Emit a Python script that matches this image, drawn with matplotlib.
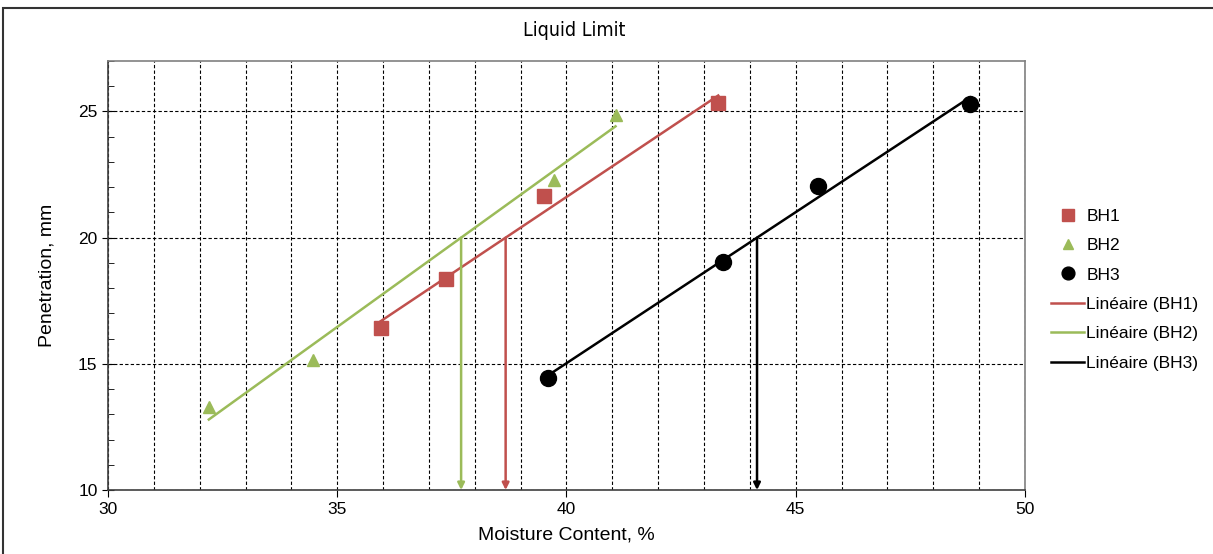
import numpy as np
import matplotlib
matplotlib.use("Agg")
import matplotlib.pyplot as plt
from matplotlib.ticker import MultipleLocator
from matplotlib.patches import Rectangle

plt.rcParams['font.family'] = ['Liberation Sans', 'DejaVu Sans']

# Moisture content (%) and cone penetration (mm) per borehole
bh1_w = [35.95, 37.38, 39.51, 43.31]
bh1_p = [16.41, 18.38, 21.64, 25.34]
bh2_w = [32.20, 34.48, 39.73, 41.07]
bh2_p = [13.30, 15.17, 22.30, 24.87]
bh3_w = [39.60, 43.41, 45.49, 48.80]
bh3_p = [14.43, 19.02, 22.06, 25.30]

names = ["BH1", "BH2", "BH3"]
colors = ["#C0504D", "#9BBB59", "#000000"]
markers = ["s", "^", "o"]
sizes = [10, 9, 11.5]
target_pen = 20

fig = plt.figure(figsize=(12.13, 5.54), dpi=100)
ax = fig.add_axes([0.089, 0.1155, 0.756, 0.7744])

series = [(bh1_w, bh1_p), (bh2_w, bh2_p), (bh3_w, bh3_p)]
pts, fits = [], []
for (w, p), name, c, m, s in zip(series, names, colors, markers, sizes):
    h, = ax.plot(w, p, linestyle="none", marker=m, ms=s, color=c, label=name, zorder=4)
    pts.append(h)
    slope, icpt = np.polyfit(w, p, 1)
    xs = np.array([min(w), max(w)])
    f, = ax.plot(xs, slope * xs + icpt, color=c, lw=1.8, label=f"Linéaire ({name})", zorder=3)
    fits.append(f)
    # liquid limit = moisture content at 20 mm penetration
    ll = (target_pen - icpt) / slope
    ax.annotate("", xy=(ll, 10), xytext=(ll, target_pen),
                arrowprops=dict(arrowstyle="-|>", color=c, lw=1.8,
                                mutation_scale=10, shrinkA=0, shrinkB=0),
                zorder=3)

ax.set_xlim(30, 50)
ax.set_ylim(10, 27)
ax.xaxis.set_major_locator(MultipleLocator(5))
ax.xaxis.set_minor_locator(MultipleLocator(1))
ax.yaxis.set_major_locator(MultipleLocator(5))
ax.yaxis.set_minor_locator(MultipleLocator(1))
ax.grid(which="both", axis="x", color="black", linestyle=(0, (3, 2)), lw=0.8)
ax.grid(which="major", axis="y", color="black", linestyle=(0, (3, 2)), lw=0.8)
ax.tick_params(axis="x", which="minor", length=0)
ax.tick_params(axis="x", which="major", direction="out", length=5, labelsize=12.5)
ax.tick_params(axis="y", which="major", direction="inout", length=8, labelsize=12.5)
ax.tick_params(axis="y", which="minor", direction="in", length=4)
ax.set_axisbelow(True)

for side in ["left", "bottom"]:
    ax.spines[side].set_color("#404040")
    ax.spines[side].set_linewidth(1.2)
for side in ["top", "right"]:
    ax.spines[side].set_color("#808080")
    ax.spines[side].set_linewidth(1.2)

ax.set_xlabel("Moisture Content, %", fontsize=14, labelpad=7)
ax.set_ylabel("Penetration, mm", fontsize=14, labelpad=16)
fig.text(0.473, 0.945, "Liquid Limit", ha="center", va="center", fontsize=14,
         family=["DejaVu Sans"], stretch="condensed")

fig.legend(handles=pts + fits, loc="upper left", bbox_to_anchor=(0.861, 0.636),
           frameon=False, fontsize=12.5, handlelength=1.9, handletextpad=0.12,
           labelspacing=0.82, borderaxespad=0, markerscale=0.8)

# outer chart frame
fig.patches.append(Rectangle((3 / 1213, -0.01), 1.02, 1 - 8 / 554 + 0.01,
                             transform=fig.transFigure, fill=False,
                             edgecolor="#333333", lw=1.5))

fig.savefig("out.png", dpi=100)
